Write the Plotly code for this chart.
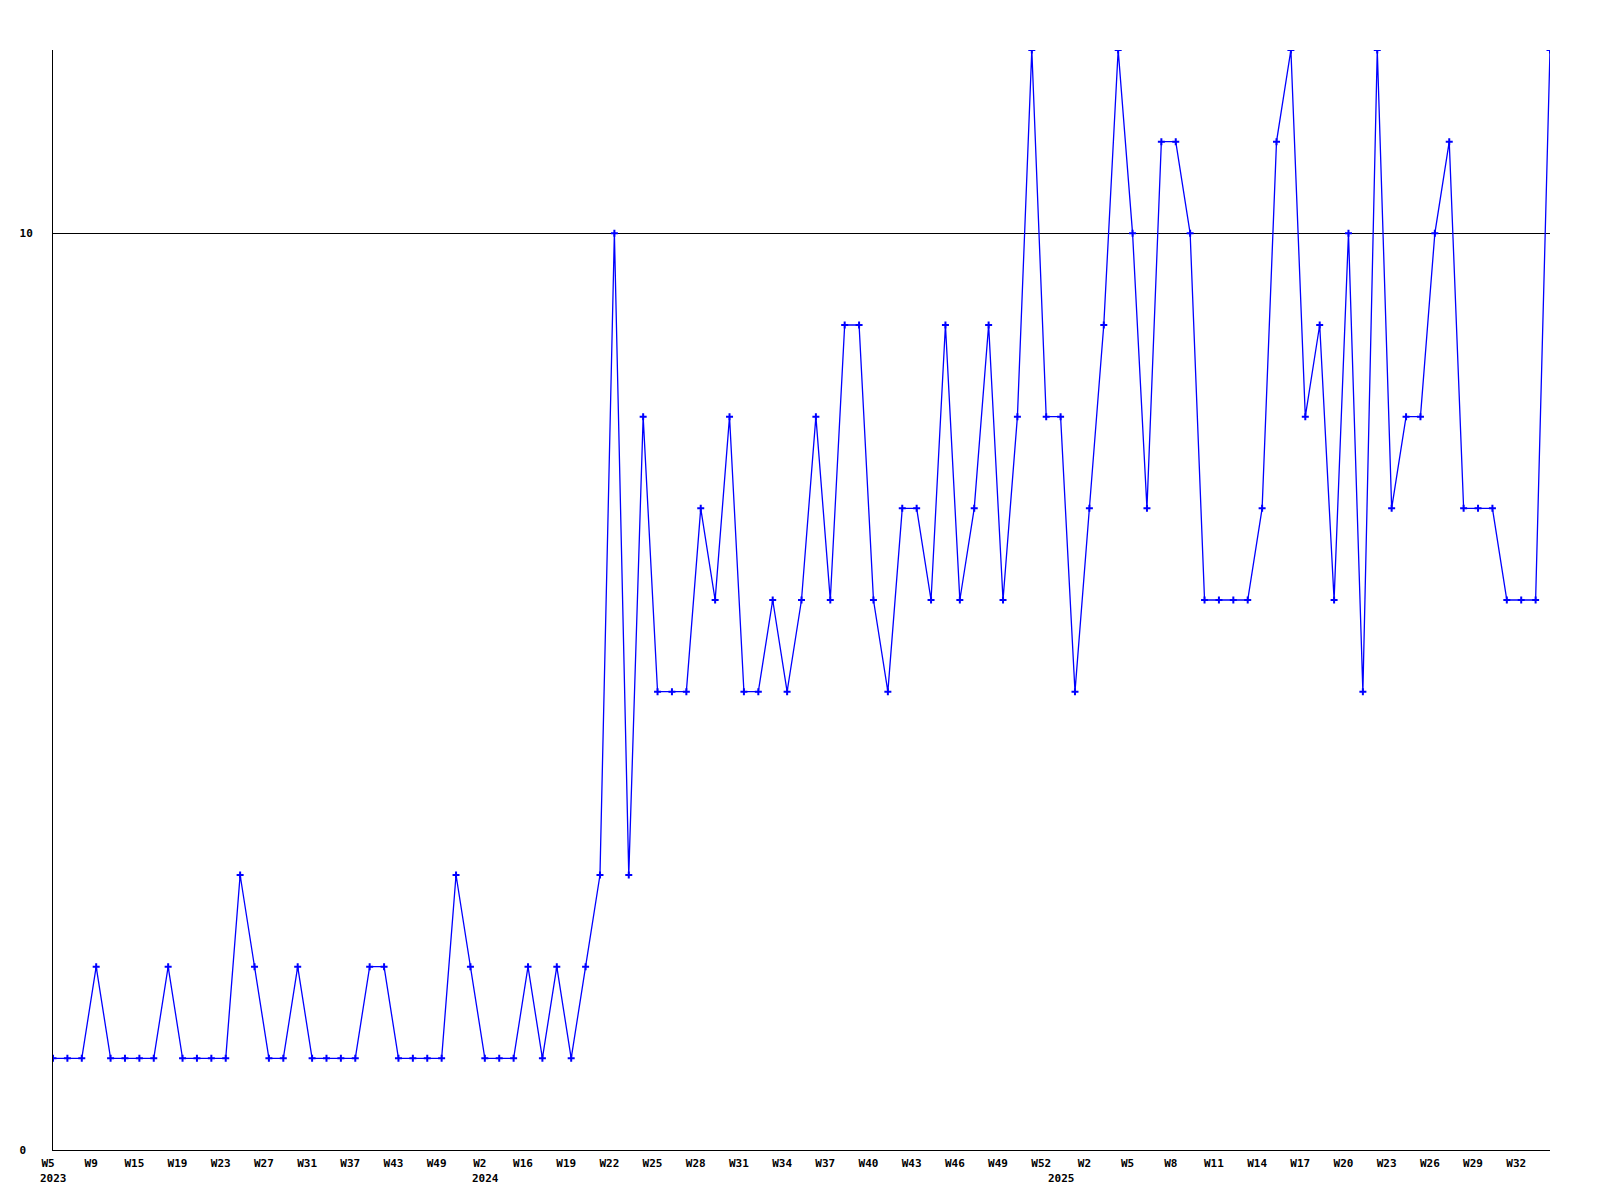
import plotly.graph_objects as go

# Category labels (year, week) for each data point
years = [2023] * 30 + [2024] * 40 + [2025] * 35
weeks = (
    [5, 6, 8, 9, 11, 13, 15, 17, 18, 19, 20, 22, 23, 24, 26, 27, 28, 30, 31, 33,
     35, 37, 39, 41, 43, 45, 47, 49, 50, 52]
    + [2, 8, 12] + list(range(16, 53))
    + list(range(0, 35))
)
values = [
    1, 1, 1, 2, 1, 1, 1, 1, 2, 1, 1, 1, 1, 3, 2, 1, 1, 2, 1, 1,
    1, 1, 2, 2, 1, 1, 1, 1, 3, 2, 1, 1, 1, 2, 1, 2, 1, 2, 3, 10,
    3, 8, 5, 5, 5, 7, 6, 8, 5, 5, 6, 5, 6, 8, 6, 9, 9, 6, 5, 7,
    7, 6, 9, 6, 7, 9, 6, 8, 12, 8, 8, 5, 7, 9, 12, 10, 7, 11, 11, 10,
    6, 6, 6, 6, 7, 11, 12, 8, 9, 6, 10, 5, 12, 7, 8, 8, 10, 11, 7, 7,
    7, 6, 6, 6, 12,
]
categories = [f"{y}-W{w:02d}" for y, w in zip(years, weeks)]
tick_step = 3
y_ticks = [0, 10]

FONT = "DejaVu Sans Mono"

fig = go.Figure()
fig.add_trace(go.Scatter(
    x=categories, y=values, mode="lines+markers",
    line=dict(color="#0000ff", width=1.3),
    marker=dict(symbol="cross-thin", size=5, color="#0000ff",
                line=dict(color="#0000ff", width=2)),
    showlegend=False,
))

tickvals = categories[::tick_step]
ticktext = [f"W{w}" for w in weeks[::tick_step]]

# year labels at the first point of each year
annotations = []
seen = set()
for c, y in zip(categories, years):
    if y not in seen:
        seen.add(y)
        annotations.append(dict(
            x=c, y=0, xref="x", yref="paper", text=f"<b>{y}</b>",
            showarrow=False, xanchor="left", yanchor="top",
            xshift=-15, yshift=-20,
            font=dict(family=FONT, size=11, color="black"),
        ))

fig.update_layout(
    width=1600, height=1200,
    margin=dict(l=42, r=58, t=42, b=58),
    paper_bgcolor="white", plot_bgcolor="white",
    font=dict(family=FONT, size=11, color="black"),
    annotations=annotations,
    xaxis=dict(
        type="category", range=[0, len(categories) - 1],
        tickvals=tickvals, ticktext=[f"<b>{t}</b>" for t in ticktext],
        showgrid=False, zeroline=False, ticks="",
        showline=True, linecolor="black", linewidth=1,
        ticklabelstandoff=3, ticklabelshift=-5,
        tickangle=0,
    ),
    yaxis=dict(
        range=[0, 12], tickvals=y_ticks,
        ticktext=["<b>0\u00a0</b>", "<b>10</b>"],
        showgrid=True, gridcolor="black", gridwidth=1,
        zeroline=False, ticks="",
        showline=True, linecolor="black", linewidth=1,
        ticklabelstandoff=17,
    ),
)

fig.write_html("out.html")
